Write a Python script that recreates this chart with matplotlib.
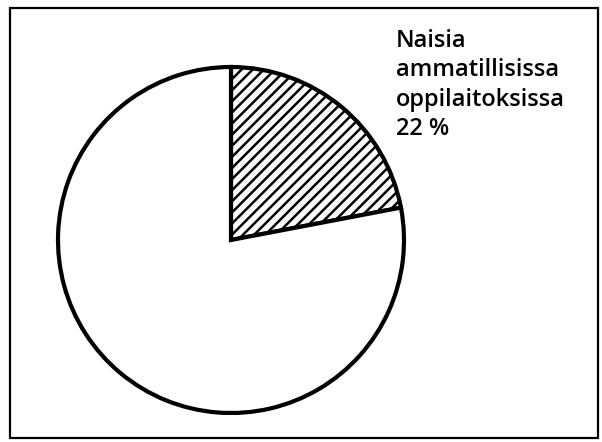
import matplotlib
matplotlib.use('Agg')
import matplotlib.pyplot as plt
from matplotlib.patches import Rectangle

plt.rcParams['hatch.linewidth'] = 1.8

shares = [22, 78]
label = 'Naisia\nammatillisissa\noppilaitoksissa\n22 %'

fig = plt.figure(figsize=(6.02, 4.42), dpi=100)
ax = fig.add_axes([0, 0, 1, 1])

wedges, _ = ax.pie(shares, startangle=90, counterclock=False,
                   center=(231, 202), radius=173, frame=True,
                   colors=['white', 'white'],
                   wedgeprops=dict(edgecolor='black', linewidth=3))
wedges[0].set_hatch('///')
ax.set_xlim(0, 602)
ax.set_ylim(0, 442)
ax.set_aspect('equal')
ax.axis('off')

ax.add_patch(Rectangle((10, 4), 588, 430, fill=False, edgecolor='black', linewidth=1.6))

ax.text(396, 413, label, fontsize=17, fontweight='semibold', family='Open Sans',
        va='top', ha='left', linespacing=1.3)

fig.savefig('out.png', dpi=100)
